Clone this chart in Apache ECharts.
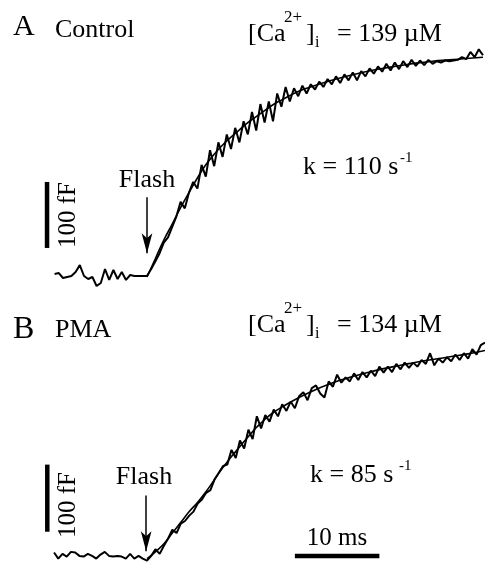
<!DOCTYPE html>
<html><head><meta charset="utf-8">
<script src="https://cdn.jsdelivr.net/npm/echarts@6/dist/echarts.min.js"></script>
<style>html,body{margin:0;padding:0;background:#fff}#c{width:485px;height:572px}</style>
</head><body><div id="c"></div>
<script>
// ---- data (ms, fF) ----
const sampleStart = -11;   // ms, first sample time
const sampleStep = 0.5;    // ms between samples
// Panel A (Control): capacitance change, fF
const preFlashA = [4.5, 6, -1.5, 0, 1.5, 7.5, 18, 1.5, -3, 0, -13.6, -9, 12, -4.5, 10.6, -3, 7.5, -4.5, 3, 1.5, 1.5, 1.5, 1.5];
const postFlashA = [12,24,36,52,60,76,92,114,104,128,
  144,134,170,152,192,168,204,182,216,194,
  226,204,236,216,250,222,262,234,266,236,
  278,258,288,266,286,274,290,278,292,284,
  296,288,300,292,304,294,307,298,310,298,
  312,304,316,308,319,311,323,313,325,315,
  327,318,329,320,328,321,329,323,327,325,
  328,327,328,329,333,330,341,333,345,336];
const fitTimesA = [0,1,2,3,4,5,6,7,8,9,10,11,12,13,14,15,16,18,20,22,24,26,28,30,32,34,36,38,40];
const fitA = [0,28,56,80,105,128,150,170,186,200,212,223,234,243,252,261,268,281,290,298,305,311,316,320,324,327,329,331,333];
// Panel B (PMA)
const preFlashB = [9, 0, 7, 3, 10, 9, 4, 3, 7, 4, 0, 6, 10, 4, 3, 4, 3, 0, 7, 0, 4, 0, -3];
const postFlashB = [4,14,7,19,30,43,38,52,56,64,
  70,82,88,98,102,118,128,138,140,162,
  150,176,164,192,178,212,194,214,204,222,
  212,230,220,234,224,242,248,236,254,258,
  246,240,264,256,274,262,270,264,276,266,
  278,270,280,272,286,277,286,278,290,282,
  292,284,292,286,296,290,306,288,298,292,
  300,294,304,296,306,298,312,304,318,322];
const fitTimesB = [0,1,2,3,4,5,6,7,8,9,10,11,12,13,14,15,16,18,20,22,24,26,28,30,32,34,36,38,40];
const fitB = [0,10,22,38,54,70,84,100,118,136,152,167,182,196,208,218,226,240,252,262,270,277,283,288,293,297,301,305,310];
// scale bars & flash arrow (data units)
const capBarA = {t: -11.9, from: 44, to: 144};     // 100 fF
const capBarB = {t: -11.8, from: 40, to: 140};     // 100 fF
const timeBarB = {v: 4, from: 17.5, to: 27.5};     // 10 ms
const flashA = {t: 0, from: 121, to: 36};
const flashB = {t: -0.1, from: 94, to: 11};
const labels = {
  A: 'A', condA: 'Control', caA: '139', kA: '110',
  B: 'B', condB: 'PMA', caB: '134', kB: '85'
};

// ---- build ----
function pairs(pre, post) {
  const all = pre.concat(post);
  return all.map((v, i) => [sampleStart + i * sampleStep, v]);
}
function zip(ts, vs) { return ts.map((t, i) => [t, vs[i]]); }

const FF = '"Liberation Serif", "Times New Roman", Times, serif';
function fontOf(size) { return size + 'px ' + FF; }
function txt(str, x, baseline, size, align, rotation) {
  const el = {type: 'text', x: x, y: baseline - 0.32 * size, silent: true,
    style: {text: str, font: fontOf(size), fontSize: size, fontFamily: FF, fill: '#000',
      textAlign: align || 'left', textVerticalAlign: 'middle', align: align || 'left', verticalAlign: 'middle'}};
  if (rotation) el.rotation = rotation;
  return el;
}
function panelTexts(letter, letterBase, letterSize, cond, condBase, ca, y0, k, kx, kBase, kSupX) {
  return [
    txt(letter, 13, letterBase, letterSize),
    txt(cond, 55, condBase, 26),
    txt('[Ca', 248, y0, 26),
    txt('2+', 284, y0 - 19, 17),
    txt(']', 306, y0, 26),
    txt('i', 315, y0 + 6, 16),
    txt('= ' + ca + ' \u00b5M', 337, y0, 26),
    txt('k = ' + k + ' s', kx, kBase, 26),
    txt('-1', kSupX, kBase - 12, 15)
  ];
}

const chart = echarts.init(document.getElementById('c'), null, {renderer: 'canvas'});
const black = '#000';
function traceSeries(name, xi, data, arrow) {
  return {name, type: 'line', xAxisIndex: xi, yAxisIndex: xi, data, symbol: 'none',
    lineStyle: {color: black, width: 2}, z: 3,
    markLine: {silent: true, symbol: ['none', 'arrow'], symbolSize: [8, 20],
      lineStyle: {color: black, width: 1.5, type: 'solid'}, label: {show: false},
      data: [[{coord: [arrow.t, arrow.from]}, {coord: [arrow.t, arrow.to]}]]}};
}
function fitSeries(name, xi, data) {
  return {name, type: 'line', xAxisIndex: xi, yAxisIndex: xi, data, symbol: 'none', smooth: true,
    lineStyle: {color: black, width: 1.6}, z: 4};
}
function barSeries(name, xi, data) {
  return {name, type: 'line', xAxisIndex: xi, yAxisIndex: xi, data, symbol: 'none', clip: false,
    lineStyle: {color: black, width: 4.5, cap: 'butt'}, z: 5};
}

const option = {
  animation: false,
  backgroundColor: '#fff',
  textStyle: {fontFamily: FF},
  grid: [
    {left: 37.8, top: 46, width: 445.2, height: 250.8},
    {left: 37.15, top: 330.4, width: 447.85, height: 248.4}
  ],
  xAxis: [
    {type: 'value', gridIndex: 0, min: -13, max: 40, show: false},
    {type: 'value', gridIndex: 1, min: -13, max: 40, show: false}
  ],
  yAxis: [
    {type: 'value', gridIndex: 0, min: -30, max: 350, show: false},
    {type: 'value', gridIndex: 1, min: -20, max: 340, show: false}
  ],
  series: [
    traceSeries('Control', 0, pairs(preFlashA, postFlashA), flashA),
    fitSeries('fit Control', 0, zip(fitTimesA, fitA)),
    barSeries('100 fF A', 0, [[capBarA.t, capBarA.from], [capBarA.t, capBarA.to]]),
    traceSeries('PMA', 1, pairs(preFlashB, postFlashB), flashB),
    fitSeries('fit PMA', 1, zip(fitTimesB, fitB)),
    barSeries('100 fF B', 1, [[capBarB.t, capBarB.from], [capBarB.t, capBarB.to]]),
    barSeries('10 ms', 1, [[timeBarB.from, timeBarB.v], [timeBarB.to, timeBarB.v]])
  ],
  graphic: [].concat(
    panelTexts(labels.A, 37, 30, labels.condA, 38, labels.caA, 42, labels.kA, 303, 175, 400),
    panelTexts(labels.B, 340, 32, labels.condB, 338, labels.caB, 333, labels.kB, 310, 483, 399),
    [
      txt('Flash', 147, 188, 26, 'center'),
      txt('Flash', 144, 485, 26, 'center'),
      txt('100 fF', 68, 223, 25, 'center', Math.PI / 2),
      txt('100 fF', 68, 513, 25, 'center', Math.PI / 2),
      txt('10 ms', 337, 546, 25, 'center')
    ]
  )
};
chart.setOption(option);
</script></body></html>
